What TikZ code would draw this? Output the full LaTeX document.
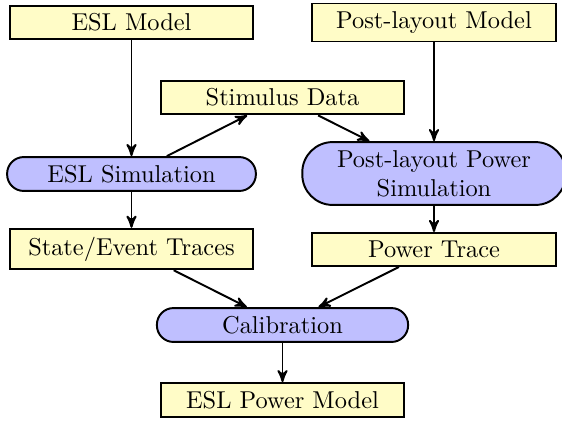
\documentclass[tikz,border=0pt]{standalone}
\usetikzlibrary{arrows}
\begin{document}
\begin{tikzpicture}[x=0.41pt,y=-0.41pt,>=stealth',
  databox/.style={draw,thick,fill=yellow!22,rectangle,text width=93.4pt,align=center,inner sep=3.3pt},
  procbox/.style={draw,thick,fill=blue!25,rectangle,align=center,inner sep=3.3pt},
  flow/.style={->,thick}]
\useasboundingbox (0,0) rectangle (562,421);
\node[databox] (eslm) at (131.5,22.5) {ESL Model};
\node[databox] (plm) at (434,22.5) {Post-layout Model};
\node[databox] (stim) at (282.5,97.5) {Stimulus Data};
\node[procbox,minimum width=102pt,minimum height=13.9pt,rounded corners=6.8pt] (eslsim) at (131.5,174) {ESL Simulation};
\node[procbox,minimum width=108pt,minimum height=25pt,rounded corners=12.4pt] (plsim) at (434,173.5) {Post-layout Power\\Simulation};
\node[databox] (trace) at (131.5,249) {State/Event Traces};
\node[databox] (ptrace) at (434,249.5) {Power Trace};
\node[procbox,minimum width=103pt,minimum height=13.9pt,rounded corners=6.8pt] (calib) at (282.5,325) {Calibration};
\node[databox] (eslpm) at (282.5,400) {ESL Power Model};
\draw[flow] (eslm) -- (eslsim);
\draw[flow] (plm) -- (plsim);
\draw[flow] (eslsim) -- (stim);
\draw[flow] (stim) -- (plsim);
\draw[flow] (eslsim) -- (trace);
\draw[flow] (plsim) -- (ptrace);
\draw[flow] (trace) -- (calib);
\draw[flow] (ptrace) -- (calib);
\draw[flow] (calib) -- (eslpm);
\end{tikzpicture}
\end{document}
